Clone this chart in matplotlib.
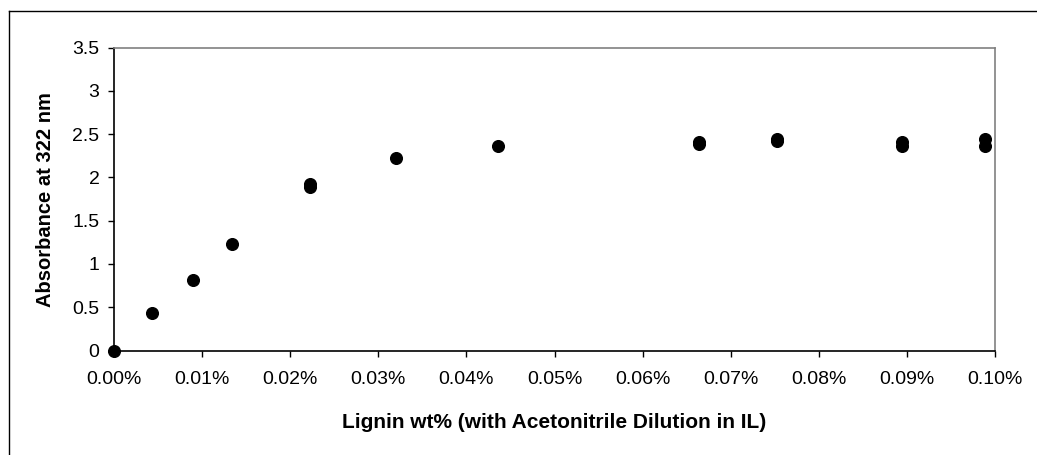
import matplotlib
matplotlib.use("Agg")
import matplotlib.pyplot as plt
from matplotlib.lines import Line2D
from matplotlib.ticker import FuncFormatter

# Lignin wt% (percent values) and absorbance at 322 nm
lignin_pct = [0.0, 0.00435, 0.0090, 0.01343, 0.02228, 0.02228, 0.03198,
              0.04362, 0.0664, 0.0664, 0.0753, 0.0753, 0.0895, 0.0895,
              0.0989, 0.0989]
absorbance = [0.0, 0.43, 0.82, 1.23, 1.93, 1.89, 2.22,
              2.365, 2.39, 2.41, 2.42, 2.44, 2.41, 2.36,
              2.44, 2.36]

x_ticks = [0.00, 0.01, 0.02, 0.03, 0.04, 0.05, 0.06, 0.07, 0.08, 0.09, 0.10]
y_ticks = [0, 0.5, 1, 1.5, 2, 2.5, 3, 3.5]

plt.rcParams['font.family'] = ['Liberation Sans', 'DejaVu Sans']

fig = plt.figure(figsize=(10.37, 4.55), dpi=100)
ax = fig.add_axes([114/1037, 1 - 350.5/455, (995 - 114)/1037, (350.5 - 47.7)/455])

ax.plot(lignin_pct, absorbance, 'o', color='black', ms=8.4, clip_on=False, zorder=3)

ax.set_xlim(0, 0.10)
ax.set_ylim(0, 3.5)
ax.set_xticks(x_ticks)
ax.set_yticks(y_ticks)
ax.xaxis.set_major_formatter(FuncFormatter(lambda v, p: '%.2f%%' % v))
ax.yaxis.set_major_formatter(FuncFormatter(lambda v, p: ('%g' % v)))
ax.tick_params(axis='both', direction='out', length=4.5, width=1, labelsize=14, colors='black')
ax.tick_params(axis='x', pad=10)
ax.tick_params(axis='y', pad=6)

for s in ['left', 'bottom']:
    ax.spines[s].set_color('black')
    ax.spines[s].set_linewidth(1.2)
for s in ['top', 'right']:
    ax.spines[s].set_color('#808080')
    ax.spines[s].set_linewidth(1.2)

ax.set_xlabel('Lignin wt% (with Acetonitrile Dilution in IL)', fontsize=15, fontweight='bold')
ax.set_ylabel('Absorbance at 322 nm', fontsize=14.5, fontweight='bold')
ax.xaxis.set_label_coords(0.5, (350.5 - 422) / 302.8)
ax.xaxis.label.set_va('center')
ax.yaxis.set_label_coords((46 - 114) / 881, 0.5)
ax.yaxis.label.set_va('center')

# outer chart frame (only top and left edges visible)
fx = 8.5/1037
fy = 1 - 10.5/455
fig.add_artist(Line2D([fx, 1.0], [fy, fy], color='black', lw=1, transform=fig.transFigure))
fig.add_artist(Line2D([fx, fx], [0.0, fy], color='black', lw=1, transform=fig.transFigure))

fig.savefig('out.png', dpi=100)
